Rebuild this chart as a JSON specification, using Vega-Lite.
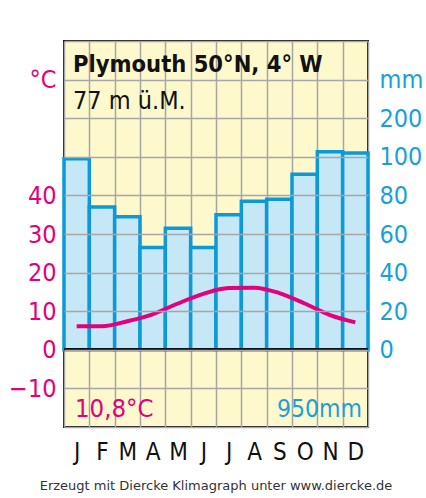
{
  "$schema": "https://vega.github.io/schema/vega-lite/v6.json",
  "autosize": {"type": "none"},
  "width": 304,
  "height": 386,
  "padding": {"left": 64, "top": 41, "right": 58, "bottom": 71},
  "background": "#ffffff",
  "title": {
    "text": "Erzeugt mit Diercke Klimagraph unter www.diercke.de",
    "orient": "bottom",
    "anchor": "middle",
    "font": "DejaVu Sans",
    "fontSize": 13,
    "fontWeight": "normal",
    "color": "#333333",
    "offset": 16
  },
  "config": {
    "view": {"fill": "#fef9cc", "stroke": "#111111", "strokeWidth": 2},
    "font": "DejaVu Sans Condensed, Liberation Sans, sans-serif"
  },
  "data": {
    "values": [
      {"month": 1, "precip": 99, "temp": 6.1},
      {"month": 2, "precip": 74, "temp": 6.1},
      {"month": 3, "precip": 69, "temp": 7.4},
      {"month": 4, "precip": 53, "temp": 9.2},
      {"month": 5, "precip": 63, "temp": 12.0},
      {"month": 6, "precip": 53, "temp": 14.5},
      {"month": 7, "precip": 70, "temp": 16.0},
      {"month": 8, "precip": 77, "temp": 16.1},
      {"month": 9, "precip": 78, "temp": 14.7},
      {"month": 10, "precip": 91, "temp": 12.0},
      {"month": 11, "precip": 113, "temp": 9.0},
      {"month": 12, "precip": 110, "temp": 7.1}
    ]
  },
  "layer": [
    {
      "mark": {"type": "bar", "fill": "#c6e7f5", "stroke": "#0b99d8", "strokeWidth": 3.5},
      "encoding": {
        "x": {
          "field": "month",
          "type": "ordinal",
          "scale": {"paddingInner": 0, "paddingOuter": 0},
          "axis": {
            "title": null,
            "labelAngle": 0,
            "labelExpr": "['J','F','M','A','M','J','J','A','S','O','N','D'][datum.value-1]",
            "labelFontSize": 24,
            "labelColor": "#111111",
            "labelPadding": 13,
            "ticks": false,
            "domain": false,
            "grid": true,
            "tickBand": "extent",
            "gridColor": "#a6a6a6",
            "gridWidth": 1.5,
            "gridOpacity": 1,
            "zindex": 0
          }
        },
        "y": {
          "field": "precip",
          "type": "quantitative",
          "scale": {"domain": [-40, 0, 100, 400], "range": [386, 308.8, 115.8, 0], "nice": false, "zero": false},
          "axis": {
            "orient": "right",
            "title": null,
            "values": [0, 20, 40, 60, 80, 100, 200, 300],
            "labelExpr": "datum.value == 300 ? 'mm' : datum.label",
            "labelFontSize": 25,
            "labelColor": "#1b9fd9",
            "labelPadding": 11,
            "ticks": false,
            "domain": false,
            "grid": false
          }
        }
      }
    },
    {
      "encoding": {
        "y": {
          "type": "quantitative",
          "scale": {"domain": [-20, 80], "nice": false, "zero": false},
          "axis": {
            "orient": "left",
            "title": null,
            "values": [-20, -10, 0, 10, 20, 30, 40, 50, 60, 70, 80],
            "labelExpr": "datum.value == 70 ? '°C' : ((datum.value >= -10 && datum.value <= 40) ? datum.label : '')",
            "labelFontSize": 25,
            "labelColor": "#e4007c",
            "labelPadding": 8,
            "ticks": false,
            "domain": false,
            "grid": true,
            "gridColor": "#a6a6a6",
            "gridWidth": 1.5,
            "gridOpacity": 1,
            "zindex": 1
          }
        }
      },
      "layer": [
        {
          "mark": {"type": "rule", "color": "#111111", "strokeWidth": 2},
          "encoding": {"y": {"datum": 0, "type": "quantitative"}}
        },
        {
          "mark": {"type": "line", "color": "#e4007c", "strokeWidth": 4, "interpolate": "monotone"},
          "encoding": {
            "x": {"field": "month", "type": "ordinal"},
            "y": {"field": "temp", "type": "quantitative"}
          }
        },
        {
          "data": {"values": [{}]},
          "mark": {"type": "text", "text": "Plymouth 50°N, 4° W", "fontSize": 23.5, "fontWeight": "bold", "color": "#111111", "align": "left", "baseline": "alphabetic", "dx": 9},
          "encoding": {
            "x": {"datum": 1, "type": "ordinal", "bandPosition": 0},
            "y": {"datum": 72, "type": "quantitative"}
          }
        },
        {
          "data": {"values": [{}]},
          "mark": {"type": "text", "text": "77 m ü.M.", "fontSize": 25, "color": "#111111", "align": "left", "baseline": "alphabetic", "dx": 9},
          "encoding": {
            "x": {"datum": 1, "type": "ordinal", "bandPosition": 0},
            "y": {"datum": 62.4, "type": "quantitative"}
          }
        },
        {
          "data": {"values": [{}]},
          "mark": {"type": "text", "text": "10,8°C", "fontSize": 25.5, "color": "#e4007c", "align": "left", "baseline": "alphabetic", "dx": 11},
          "encoding": {
            "x": {"datum": 1, "type": "ordinal", "bandPosition": 0},
            "y": {"datum": -17.4, "type": "quantitative"}
          }
        },
        {
          "data": {"values": [{}]},
          "mark": {"type": "text", "text": "950mm", "fontSize": 24.5, "color": "#1b9fd9", "align": "right", "baseline": "alphabetic", "dx": -6},
          "encoding": {
            "x": {"datum": 12, "type": "ordinal", "bandPosition": 1},
            "y": {"datum": -17.4, "type": "quantitative"}
          }
        }
      ]
    }
  ],
  "resolve": {"scale": {"y": "independent"}, "axis": {"y": "independent"}}
}
